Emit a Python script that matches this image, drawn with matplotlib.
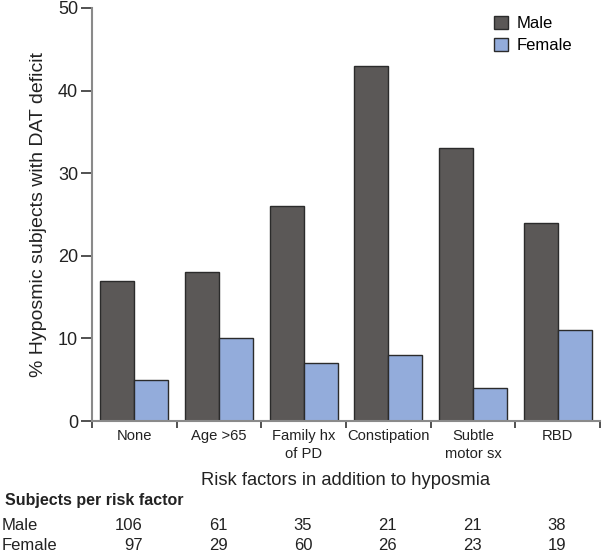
import matplotlib
matplotlib.use("Agg")
import matplotlib.pyplot as plt
import numpy as np

plt.rcParams["font.family"] = ["Liberation Sans", "DejaVu Sans"]

categories = ["None", "Age >65", "Family hx\nof PD", "Constipation", "Subtle\nmotor sx", "RBD"]
male_pct = [17, 18, 26, 43, 33, 24]
female_pct = [5, 10, 7, 8, 4, 11]
male_n = [106, 61, 35, 21, 21, 38]
female_n = [97, 29, 60, 26, 23, 19]

MALE_COLOR = "#5b5857"
FEMALE_COLOR = "#93acdb"
EDGE = "#2b2b2b"
SPINE = "#8a8a8a"
TEXT = "#222222"

fig = plt.figure(figsize=(6.11, 5.52), dpi=100)
ax = fig.add_axes([92 / 611, 1 - 421 / 552, 508 / 611, 413 / 552])

x = np.arange(len(categories)) + 0.5
w = 0.4
ax.bar(x - w / 2, male_pct, w, color=MALE_COLOR, edgecolor=EDGE, linewidth=1, label="Male")
ax.bar(x + w / 2, female_pct, w, color=FEMALE_COLOR, edgecolor=EDGE, linewidth=1, label="Female")

ax.set_xlim(0, len(categories))
ax.set_ylim(0, 50)
ax.set_yticks([0, 10, 20, 30, 40, 50])

# boundary ticks as major, labels on minor ticks at centres
ax.set_xticks(np.arange(len(categories) + 1))
ax.set_xticklabels([])
ax.set_xticks(x, minor=True)
ax.set_xticklabels(categories, minor=True, fontsize=10.6, linespacing=1.3, color=TEXT)
ax.tick_params(axis="x", which="major", direction="out", length=5, width=1.2, color="#333333")
ax.tick_params(axis="x", which="minor", length=0, pad=6)
ax.tick_params(axis="y", direction="out", length=8, width=1.2, color="#333333",
               labelsize=13, labelcolor=TEXT, pad=2)

for side in ("top", "right"):
    ax.spines[side].set_visible(False)
for side in ("left", "bottom"):
    ax.spines[side].set_color(SPINE)
    ax.spines[side].set_linewidth(1.5)

ax.set_ylabel("% Hyposmic subjects with DAT deficit", fontsize=14, labelpad=8, color=TEXT)
ax.set_xlabel("Risk factors in addition to hyposmia", fontsize=13.2, labelpad=8, color=TEXT)

ax.legend(loc="upper left", bbox_to_anchor=(494 / 611, 1 - 16 / 552), bbox_transform=fig.transFigure,
          frameon=False, fontsize=12, handlelength=0.85, handleheight=0.85, handletextpad=0.5,
          borderpad=0, borderaxespad=0, labelspacing=0.4)

# subject counts table below the chart
fig.text(5 / 611, 1 - 501 / 552, "Subjects per risk factor", fontsize=11.5, fontweight="bold",
         va="center", ha="left", color=TEXT)
row_y = {"Male": 1 - 525 / 552, "Female": 1 - 545 / 552}
for name, counts in (("Male", male_n), ("Female", female_n)):
    fig.text(2 / 611, row_y[name], name, fontsize=12, va="center", ha="left", color=TEXT)
    for xi, n in zip(x, counts):
        fx = fig.transFigure.inverted().transform(ax.transData.transform((xi + 0.1, 0)))[0]
        fig.text(fx, row_y[name], str(n), fontsize=12, va="center", ha="right", color=TEXT)

fig.savefig("out.png", dpi=100)
